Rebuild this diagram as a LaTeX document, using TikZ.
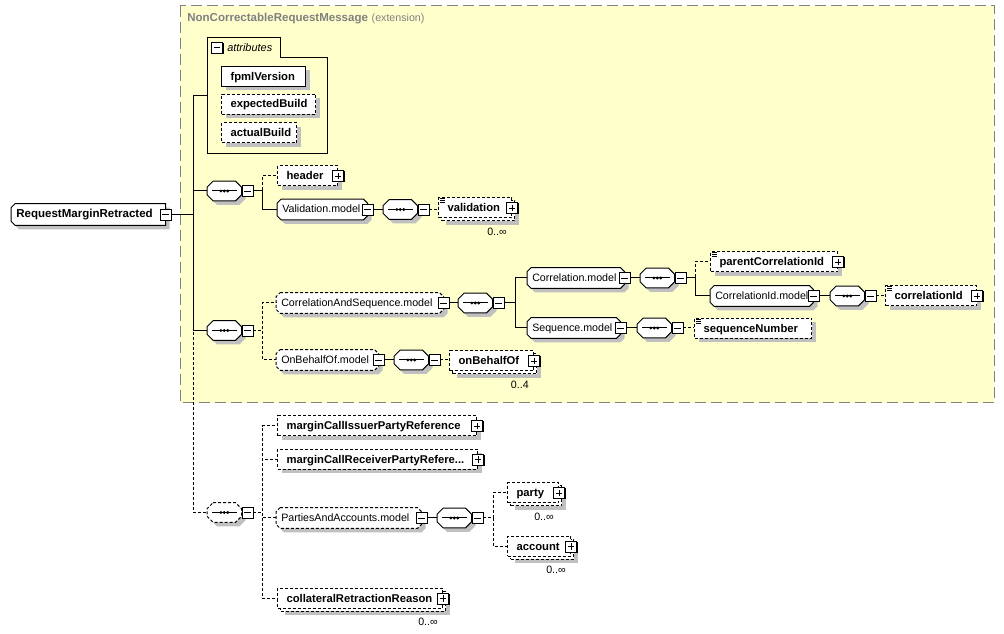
\documentclass[tikz,border=0pt]{standalone}
\usepackage{fontspec}
\setmainfont{Liberation Sans}
\definecolor{extfill}{RGB}{255,255,204}
\definecolor{extline}{RGB}{128,128,128}
\definecolor{shadowgray}{RGB}{192,192,192}
\tikzset{
  con/.style={line width=0.75pt},
  opt/.style={dash pattern=on 2.25pt off 1.5pt},
  shdw/.style={preaction={fill=shadowgray,transform canvas={shift={(3pt,-3pt)}}}},
  multi/.style={preaction={fill=shadowgray,transform canvas={shift={(5.25pt,-5.25pt)}}},
    preaction={draw,fill=white,con,opt,transform canvas={shift={(2.25pt,-2.25pt)}}}},
  elbox/.style={draw,fill=white,con,anchor=west,minimum height=15pt,inner xsep=6.75pt,
    inner ysep=0pt,text height=7.1pt,text depth=1.8pt,font=\fontsize{8.45}{10}\bfseries},
  shapebox/.style={anchor=west,minimum height=15pt,inner sep=0pt},
  grptext/.style={anchor=west,inner sep=0pt,text height=6.8pt,text depth=1.7pt,font=\fontsize{8}{10}\selectfont},
  pmbox/.style={draw,fill=white,line width=0.6pt,minimum size=8.25pt,inner sep=0pt,
    preaction={fill=black,transform canvas={shift={(0.75pt,-0.75pt)}}}},
  multlbl/.style={anchor=east,inner sep=0pt,text height=6pt,text depth=1.7pt,font=\fontsize{8}{10}\selectfont},
}
\newcommand{\lbox}[2]{\hbox to \dimexpr(#1)*3/4\relax{#2\hss}}
\newcommand{\chamfer}[3]{\draw[#3] ([xshift=#2]#1.north west) -- ([xshift=-#2]#1.north east)
  -- ([yshift=-#2]#1.north east) -- ([yshift=#2]#1.south east) -- ([xshift=-#2]#1.south east)
  -- ([xshift=#2]#1.south west) -- ([yshift=#2]#1.south west) -- ([yshift=-#2]#1.north west) -- cycle;}
\newcommand{\plusbox}[1]{\node[pmbox] (#1-pm) at (#1.east) {};
  \draw ([xshift=1.9pt]#1-pm.west) -- ([xshift=-1.9pt]#1-pm.east)
        ([yshift=1.9pt]#1-pm.south) -- ([yshift=-1.9pt]#1-pm.north);}
\newcommand{\minusbox}[2][0pt]{\node[pmbox] (#2-pm) at ([xshift=#1]#2.east) {};
  \draw ([xshift=1.9pt]#2-pm.west) -- ([xshift=-1.9pt]#2-pm.east);}
\newcommand{\elem}[6]{\node[elbox,#5,minimum width=#4*0.75pt] (#1) at (#2,#3) {\lbox{#4pt-18pt}{#6}};}
\newcommand{\grp}[6]{\node[shapebox,minimum width=#4*0.75pt] (#1) at (#2,#3) {};
  \chamfer{#1}{3pt}{shdw,fill=white,con,#5}
  \node[grptext] (#1-t) at ([xshift=3.75pt]#1.west) {#6};
  \minusbox{#1}}
\newcommand{\seqbox}[4]{\node[shapebox,minimum width=25.5pt,minimum height=14.25pt] (#1) at (#2,#3) {};
  \chamfer{#1}{4.5pt}{shdw,fill=white,con,#4}
  \draw[con] ([xshift=3.75pt]#1.west) -- ([xshift=-3.75pt]#1.east);
  \foreach \k in {-1,0,1} \fill ([xshift=\k*2.6pt]#1.center) circle (1.15pt);
  \draw[con] (#1.east) -- ++(2pt,0);
  \minusbox[4.5pt]{#1}}
\newcommand{\simplemark}[1]{\draw[line width=0.5pt] ([shift={(1.5pt,-1pt)}]#1.north west) -- ++(4pt,0pt)
  ++(-4pt,-1.4pt) -- ++(4pt,0pt) ++(-4pt,-1.4pt) -- ++(4pt,0pt);}
\newcommand{\mult}[2]{\node[multlbl] (#1-m) at ([shift={(-3.75pt,-10.5pt)}]#1.south east) {#2};}
\newcommand{\branch}[4]{\draw[con,#4] (#1-pm.east) -- ++(#3,0) |- (#2.west);}
\newcommand{\link}[3]{\draw[con,#3] (#1-pm.east) -- (#1-pm.east -| #2.west);}

\begin{document}
\begin{tikzpicture}[x=0.75pt,y=-0.75pt]
    \useasboundingbox (0,0) rectangle (1004,634);
    \draw[extline,fill=extfill,line width=0.75pt,dash pattern=on 8.25pt off 3.75pt] (180,6) rectangle (994,403);
    \node[anchor=west,inner sep=0pt,text=extline] (exttitle) at (187,18.5)
      {{\fontsize{8.65}{10}\bfseries NonCorrectableRequestMessage} {\fontsize{8}{10}\selectfont(extension)}};

    \node[shapebox,minimum width=115.5pt,minimum height=15.75pt] (root) at (11,214.5) {};
    \draw[shdw,fill=white,con] ([xshift=3pt]root.north west) -- (root.north east) -- (root.south east)
      -- ([xshift=3pt]root.south west) -- ([yshift=3pt]root.south west) -- ([yshift=-3pt]root.north west) -- cycle;
    \node[grptext,font=\fontsize{8.65}{10}\bfseries] (root-t) at ([xshift=3.75pt]root.west) {RequestMarginRetracted};
    \minusbox{root}

    \node[anchor=north west,minimum width=90pt,minimum height=86.25pt,inner sep=0pt] (attrs) at (207,38) {};
    \node[anchor=north west,minimum width=54.75pt,minimum height=14.25pt,inner sep=0pt] (attrtab) at (207,38) {};
    \draw[con] (attrs.south west) |- (attrtab.north east) -- (attrtab.south east) -| (attrs.south east) -- cycle;
    \node[pmbox] (attrtab-pm) at ([xshift=7.5pt]attrtab.west) {};
    \draw ([xshift=1.9pt]attrtab-pm.west) -- ([xshift=-1.9pt]attrtab-pm.east);
    \node[grptext,font=\fontsize{8.2}{10}\itshape] (attrtab-t) at ([xshift=15pt]attrtab.west) {attributes};
    \elem{fpml}{221}{76.5}{84}{shdw}{fpmlVersion}
    \elem{expbuild}{221}{104.3}{94}{shdw,opt}{expectedBuild}
    \elem{actbuild}{221}{132.7}{75}{shdw,opt}{actualBuild}

    \seqbox{seqA}{207}{191}{}
    \elem{header}{277}{176}{60}{shdw,opt}{header} \plusbox{header}
    \grp{valmodel}{277}{209.5}{90}{}{Validation.model}
    \seqbox{seqB}{383}{209.5}{}
    \elem{validation}{438}{208}{73}{multi,opt}{validation} \simplemark{validation} \plusbox{validation}
    \mult{validation}{0..∞}

    \seqbox{seqC}{207}{330.5}{}
    \grp{corrseq}{276}{303}{167}{opt}{CorrelationAndSequence.model}
    \grp{obomodel}{276}{360}{102}{opt}{OnBehalfOf.model}
    \seqbox{seqD}{458}{303}{}
    \grp{corrmodel}{527}{278}{97}{}{Correlation.model}
    \grp{seqmodel}{527}{328}{93}{}{Sequence.model}
    \seqbox{seqE}{640}{278}{}
    \elem{parentcorr}{710}{262}{127}{shdw,opt}{parentCorrelationId} \simplemark{parentcorr} \plusbox{parentcorr}
    \grp{corridmodel}{710}{296}{103}{}{CorrelationId.model}
    \seqbox{seqF}{830}{296}{}
    \elem{corrid}{885}{296}{91}{shdw,opt}{correlationId} \simplemark{corrid} \plusbox{corrid}
    \seqbox{seqG}{637}{328}{}
    \elem{seqnum}{694}{328.5}{117}{shdw,opt}{sequenceNumber} \simplemark{seqnum}
    \seqbox{seqH}{394}{360}{}
    \elem{onbehalf}{449}{361}{84}{multi,opt}{onBehalfOf} \plusbox{onbehalf}
    \mult{onbehalf}{0..4}

    \seqbox{seqI}{207}{512.5}{opt}
    \elem{issuer}{277}{426}{199}{shdw,opt}{marginCallIssuerPartyReference} \plusbox{issuer}
    \elem{receiver}{277}{459.5}{200}{shdw,opt}{marginCallReceiverPartyRefere...} \plusbox{receiver}
    \grp{partiesmodel}{276}{518}{145}{opt}{PartiesAndAccounts.model}
    \seqbox{seqJ}{437}{518}{}
    \elem{party}{507}{493}{51}{multi,opt}{party} \plusbox{party} \mult{party}{0..∞}
    \elem{account}{507}{546.5}{63}{multi,opt}{account} \plusbox{account} \mult{account}{0..∞}
    \elem{collateral}{277}{598.5}{165}{multi,opt}{collateralRetractionReason} \plusbox{collateral}
    \mult{collateral}{0..∞}

    \branch{root}{attrs}{22}{} \branch{root}{seqA}{22}{}
    \branch{root}{seqC}{22}{} \branch{root}{seqI}{22}{opt}
    \branch{seqA}{header}{9}{opt} \branch{seqA}{valmodel}{9}{}
    \link{valmodel}{seqB}{} \link{seqB}{validation}{opt}
    \branch{seqC}{corrseq}{9}{opt} \branch{seqC}{obomodel}{9}{opt}
    \link{corrseq}{seqD}{}
    \branch{seqD}{corrmodel}{11}{} \branch{seqD}{seqmodel}{11}{}
    \link{corrmodel}{seqE}{}
    \branch{seqE}{parentcorr}{9}{opt} \branch{seqE}{corridmodel}{9}{}
    \link{corridmodel}{seqF}{} \link{seqF}{corrid}{opt}
    \link{seqmodel}{seqG}{} \link{seqG}{seqnum}{opt}
    \link{obomodel}{seqH}{} \link{seqH}{onbehalf}{opt}
    \branch{seqI}{issuer}{9}{opt} \branch{seqI}{receiver}{9}{opt}
    \branch{seqI}{partiesmodel}{9}{opt} \branch{seqI}{collateral}{9}{opt}
    \link{partiesmodel}{seqJ}{}
    \branch{seqJ}{party}{10}{opt} \branch{seqJ}{account}{10}{opt}
\end{tikzpicture}
\end{document}
